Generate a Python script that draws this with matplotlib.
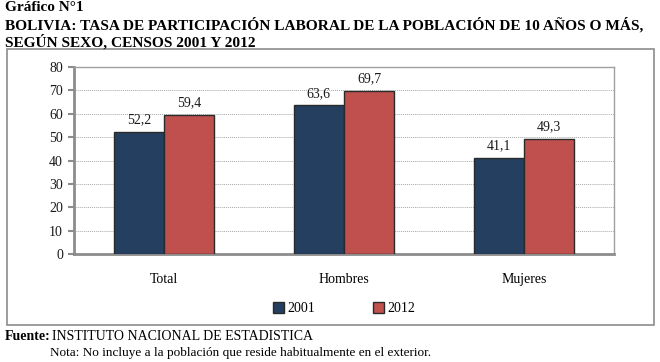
import matplotlib.pyplot as plt
import numpy as np
from matplotlib.patches import Rectangle

categories = ["Total", "Hombres", "Mujeres"]
years = ["2001", "2012"]
vals_2001 = [52.2, 63.6, 41.1]
vals_2012 = [59.4, 69.7, 49.3]
colors = ["#253F60", "#C0504D"]

plt.rcParams['font.family'] = ['Liberation Serif', 'DejaVu Serif']

fig = plt.figure(figsize=(6.6, 3.62), dpi=100)

# outer frame around the chart
fig.patches.append(Rectangle((7 / 660, 1 - 325 / 362), 647 / 660, 276 / 362,
                             transform=fig.transFigure, fill=False,
                             edgecolor="#8C8C8C", linewidth=1.2))

ax = fig.add_axes([74 / 660, 1 - 254 / 362, 540 / 660, 187 / 362])

x = np.arange(len(categories))
w = 0.28
series = [vals_2001, vals_2012]
for i, vals in enumerate(series):
    pos = x + (i - 0.5) * w
    ax.bar(pos, vals, width=w, color=colors[i], edgecolor="#2A2A2A",
           linewidth=1.0, label=years[i], zorder=3)
    for p, v in zip(pos, vals):
        ax.annotate(f"{v:.1f}".replace(".", ","), (p, v), xytext=(0, 4),
                    textcoords="offset points", ha="center", va="bottom",
                    fontsize=10, color="#1A1A1A", zorder=4)

ax.set_xlim(-0.5, 2.5)
ax.set_ylim(0, 80)
ax.set_yticks(range(0, 90, 10))
ax.set_xticks(x)
ax.set_xticklabels(categories, fontsize=10)
ax.tick_params(axis="x", length=0, pad=14)
ax.tick_params(axis="y", labelsize=10, length=4, color="#8C8C8C", width=1.5, pad=4)
for t in ax.get_yticklabels():
    t.set_color("#1A1A1A")

ax.yaxis.grid(True, linestyle=(0, (1, 1)), color="#A8A8A8", linewidth=0.7, zorder=0)
for s in ["left", "bottom"]:
    ax.spines[s].set_color("#8C8C8C")
    ax.spines[s].set_linewidth(2)
for s in ["top", "right"]:
    ax.spines[s].set_color("#A0A0A0")
    ax.spines[s].set_linewidth(1)

ax.legend(loc="upper center", bbox_to_anchor=(0.5, -0.19), ncol=2, frameon=False,
          fontsize=10, handlelength=0.8, handleheight=0.8, handletextpad=0.2,
          columnspacing=4.2)

fig.text(5 / 660, 1 - 1 / 362, "Gráfico N°1", fontsize=11, fontweight="bold",
         va="top", ha="left")
fig.text(5 / 660, 1 - 17 / 362,
         "BOLIVIA: TASA DE PARTICIPACIÓN LABORAL DE LA POBLACIÓN DE 10 AÑOS O MÁS,",
         fontsize=11.1, fontweight="bold", va="top", ha="left")
fig.text(5 / 660, 1 - 34 / 362, "SEGÚN SEXO, CENSOS 2001 Y 2012",
         fontsize=11.1, fontweight="bold", va="top", ha="left")

fig.text(5 / 660, 1 - 330 / 362, "Fuente:", fontsize=10, fontweight="bold",
         va="top", ha="left")
fig.text(52 / 660, 1 - 330 / 362, "INSTITUTO NACIONAL DE ESTADISTICA",
         fontsize=10, va="top", ha="left")
fig.text(50 / 660, 1 - 347 / 362,
         "Nota: No incluye a la población que reside habitualmente en el exterior.",
         fontsize=9.5, va="top", ha="left")

fig.savefig("out.png", dpi=100)
